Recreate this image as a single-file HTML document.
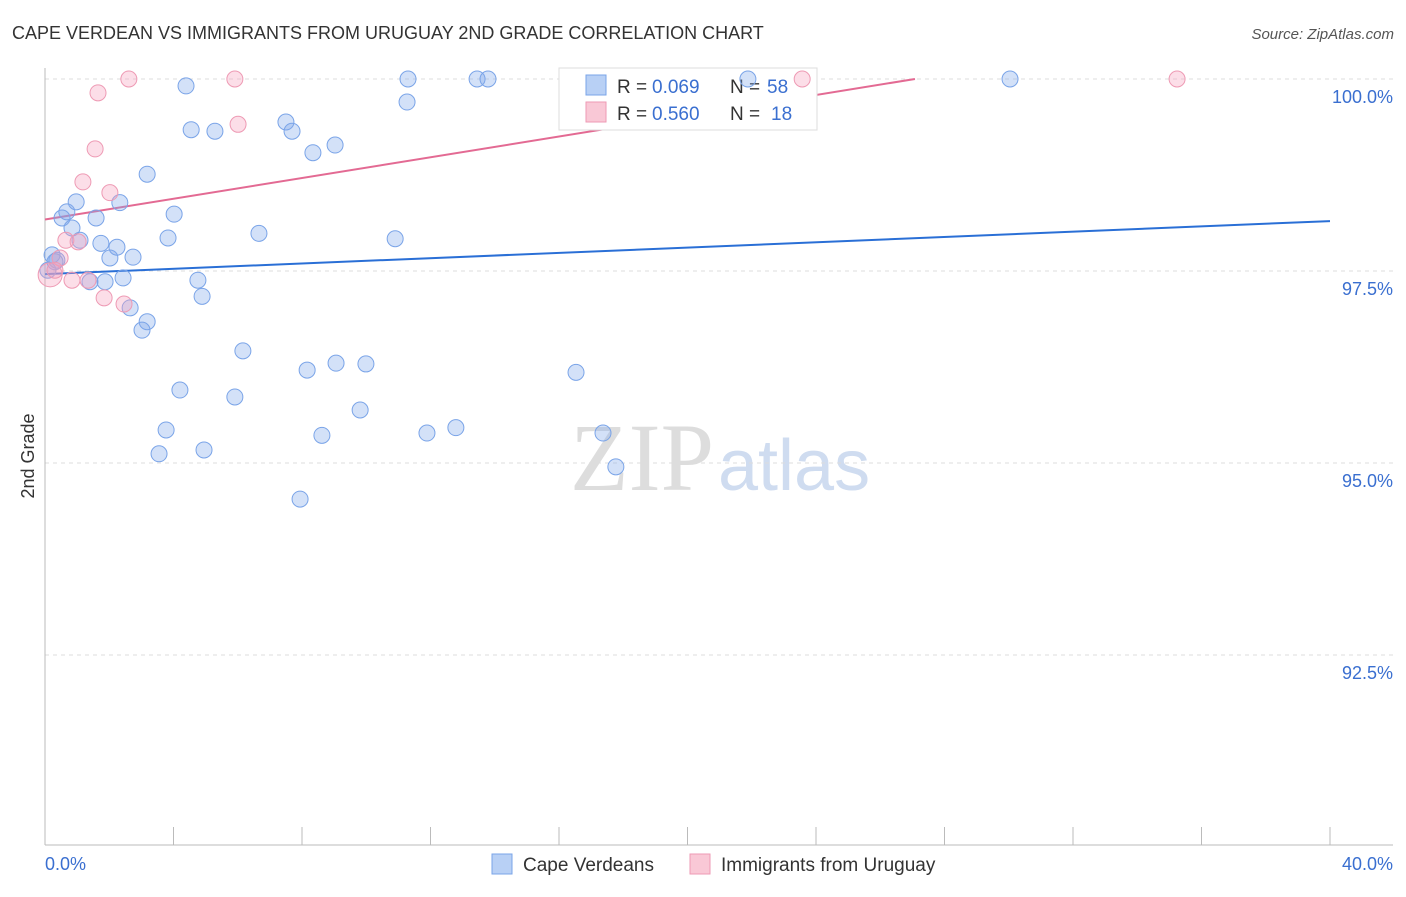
<!DOCTYPE html>
<html><head><meta charset="utf-8"><style>
body{margin:0;background:#fff;font-family:"Liberation Sans",sans-serif}
</style></head><body>
<svg id="c" width="1406" height="892" xmlns="http://www.w3.org/2000/svg">
<text x="12" y="39" font-size="18" fill="#333">CAPE VERDEAN VS IMMIGRANTS FROM URUGUAY 2ND GRADE CORRELATION CHART</text>
<text x="1394" y="39" font-size="15" fill="#555" text-anchor="end" font-style="italic">Source: ZipAtlas.com</text>
<text x="714" y="490" font-size="96" fill="#ddd" text-anchor="end" font-family="Liberation Serif">ZIP</text>
<text x="718" y="490" font-size="72" fill="#cfdcf0">atlas</text>
<g id="grid"></g><g id="lines"></g>
<g>
<rect x="559" y="68" width="258" height="62" fill="#fff" stroke="#ddd"/>
<rect x="586" y="75" width="20" height="20" fill="#b8d0f5" stroke="#7aa4e8"/>
<rect x="586" y="102" width="20" height="20" fill="#f9c8d6" stroke="#ee9ab4"/>
<text x="617" y="93" font-size="19" fill="#333">R =</text>
<text x="652" y="93" font-size="19" fill="#3a6fd0">0.069</text>
<text x="730" y="93" font-size="19" fill="#333">N =</text>
<text x="767" y="93" font-size="19" fill="#3a6fd0">58</text>
<text x="617" y="120" font-size="19" fill="#333">R =</text>
<text x="652" y="120" font-size="19" fill="#3a6fd0">0.560</text>
<text x="730" y="120" font-size="19" fill="#333">N =</text>
<text x="771" y="120" font-size="19" fill="#3a6fd0">18</text>
</g>
<g id="marks"></g>
<text transform="translate(34,456) rotate(-90)" font-size="18" fill="#333" text-anchor="middle">2nd Grade</text>
<text x="45" y="870" font-size="18" fill="#3a6fd0">0.0%</text>
<text x="1393" y="870" font-size="18" fill="#3a6fd0" text-anchor="end">40.0%</text>
<g>
<rect x="492" y="854" width="20" height="20" fill="#b8d0f5" stroke="#7aa4e8"/>
<text x="523" y="871" font-size="19" fill="#333">Cape Verdeans</text>
<rect x="690" y="854" width="20" height="20" fill="#f9c8d6" stroke="#ee9ab4"/>
<text x="721" y="871" font-size="19" fill="#333">Immigrants from Uruguay</text>
</g>
</svg>
<script>
const yTicks=[100,97.5,95,92.5];
const yTickLabels=["100.0%","97.5%","95.0%","92.5%"];
const blueX=[0.22,0.37,0.09,0.53,0.68,0.84,0.97,1.09,1.59,1.74,2.02,2.24,2.33,2.43,2.74,1.87,1.40,2.65,3.18,3.02,3.18,4.02,3.83,4.39,4.55,5.29,4.76,4.89,4.20,3.77,3.55,4.95,5.91,6.16,6.66,7.50,7.69,8.34,9.03,8.16,9.06,9.99,9.81,8.62,7.94,10.90,11.27,11.30,11.89,12.79,13.45,13.79,16.53,17.37,17.77,21.88,30.04,0.31];
const blueY=[97.71,97.64,97.51,98.19,98.27,98.06,98.40,97.90,98.19,97.86,97.67,97.81,98.39,97.41,97.68,97.36,97.36,97.02,96.84,96.73,98.76,98.24,97.93,99.91,99.34,99.32,97.38,97.17,95.95,95.43,95.12,95.17,95.86,96.46,97.99,99.44,99.32,99.04,99.14,96.21,96.30,96.29,95.69,95.36,94.53,97.92,99.70,100,95.39,95.46,100,100,96.18,95.39,94.95,100,100,97.62];
const pinkX=[1.65,2.61,5.91,6.01,1.56,1.18,2.02,0.65,1.03,0.47,0.16,0.84,1.34,1.84,2.46,23.57,35.24,0.31];
const pinkY=[99.82,100,100,99.41,99.09,98.66,98.52,97.90,97.88,97.67,97.45,97.38,97.38,97.15,97.07,100,100,97.51];
const blueLine=[97.46,98.15];
const pinkLine=[98.17,100,27.08];
const NS="http://www.w3.org/2000/svg";
const X=v=>45+v/40*1285, Y=v=>79+(100-v)/2.5*192;
function mk(t,a,p){const e=document.createElementNS(NS,t);for(const k in a)e.setAttribute(k,a[k]);p.appendChild(e);return e;}
const g=document.getElementById('grid'),m=document.getElementById('marks'),ln=document.getElementById('lines');
yTicks.forEach((t,i)=>{const l=mk('line',{x1:45,x2:1393,y1:Y(t),y2:Y(t),stroke:'#ddd','stroke-dasharray':'4,4'},g);


const tx=mk('text',{x:1393,y:Y(t)+24,'font-size':18,fill:'#3a6fd0','text-anchor':'end'},g);tx.textContent=yTickLabels[i];

});
const ax=mk('line',{x1:45,x2:1393,y1:845,y2:845,stroke:'#bbb'},g);


const ay=mk('line',{x1:45,x2:45,y1:68,y2:845,stroke:'#bbb'},g);


for(let i=0;i<=10;i++){const t=mk('line',{x1:X(i*4),x2:X(i*4),y1:827,y2:845,stroke:'#bbb'},g);

}
blueX.forEach((v,i)=>{const c=mk('circle',{cx:X(v),cy:Y(blueY[i]),r:8,fill:'rgba(130,170,235,0.35)',stroke:'#7aa4e8','stroke-width':1},m);

});
pinkX.forEach((v,i)=>{const c=mk('circle',{cx:X(v),cy:Y(pinkY[i]),r:i==10?12:8,fill:'rgba(245,160,190,0.35)',stroke:'#ee9ab4','stroke-width':1},m);

});
const bl=mk('line',{x1:X(0),y1:Y(blueLine[0]),x2:X(40),y2:Y(blueLine[1]),stroke:'#2a6fd6','stroke-width':2},ln);


const pl=mk('line',{x1:X(0),y1:Y(pinkLine[0]),x2:X(pinkLine[2]),y2:Y(pinkLine[1]),stroke:'#e36a93','stroke-width':2},ln);


</script>
</body></html>
